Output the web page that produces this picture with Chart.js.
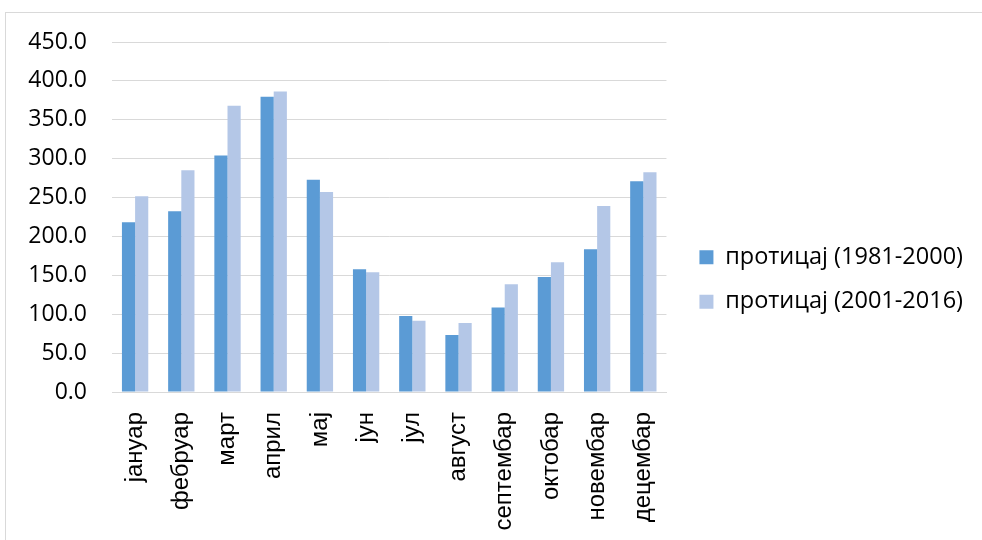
<!DOCTYPE html>
<html>
<head>
<meta charset="utf-8">
<script src="https://cdn.jsdelivr.net/npm/chart.js@4"></script>
<style>
  html, body { margin: 0; padding: 0; background: #fff; overflow: hidden; }
  #frame {
    position: absolute; left: 5px; top: 12px; width: 1000px; height: 560px;
    border-left: 1px solid #d9d9d9; border-top: 1px solid #d9d9d9; box-sizing: border-box;
  }
  #wrap { position: absolute; left: 5px; top: 12px; width: 977px; height: 528px; }
</style>
</head>
<body>
<div id="frame"></div>
<div id="wrap"><canvas id="c"></canvas></div>
<script>
// Monthly discharge, two reference periods
const months = ['јануар', 'фебруар', 'март', 'април', 'мај', 'јун', 'јул', 'август', 'септембар', 'октобар', 'новембар', 'децембар'];
const period1Label = 'протицај (1981-2000)';
const period2Label = 'протицај (2001-2016)';
const period1 = [218.2, 232.3, 304.2, 379.5, 272.9, 157.9, 97.6, 73.2, 108.6, 148.0, 183.6, 270.9];
const period2 = [251.6, 285.0, 367.9, 386.4, 257.1, 154.0, 91.5, 88.6, 138.6, 166.9, 239.2, 282.4];
const yMax = 450;
const yStep = 50;

const gridColor = '#d9d9d9';

new Chart(document.getElementById('c'), {
  type: 'bar',
  data: {
    labels: months,
    datasets: [
      { label: period1Label, data: period1, backgroundColor: '#5b9bd5', yAxisID: 'y' },
      { label: period2Label, data: period2, backgroundColor: '#b4c7e7', yAxisID: 'y' }
    ]
  },
  options: {
    responsive: true,
    maintainAspectRatio: false,
    animation: false,
    layout: { padding: { top: 7, bottom: 0, left: 0, right: 9 } },
    datasets: { bar: { categoryPercentage: 0.57, barPercentage: 1.0 } },
    plugins: {
      tooltip: { enabled: false },
      legend: {
        position: 'right',
        align: 'center',
        maxWidth: 400,
        labels: {
          boxWidth: 14,
          boxHeight: 14,
          padding: 21,
          color: '#000',
          font: { family: 'Open Sans', size: 23.5 }
        }
      }
    },
    scales: {
      x: {
        grid: { display: false },
        border: { color: gridColor, width: 1 },
        ticks: {
          color: '#000',
          font: { family: 'Liberation Sans', size: 24 },
          minRotation: 90,
          maxRotation: 90,
          padding: 12,
          autoSkip: false
        },
        afterFit: s => { s.height = 148; }
      },
      y: {
        min: 0,
        max: yMax,
        grid: { color: gridColor, lineWidth: 1, drawTicks: false },
        border: { display: false },
        ticks: {
          stepSize: yStep,
          color: '#000',
          padding: 25,
          font: { family: 'Open Sans', size: 23 },
          callback: v => Number(v).toFixed(1)
        },
        afterFit: s => { s.width = 107; s.paddingTop = 30; s.paddingBottom = 0; }
      },
      spacer: {
        position: 'right',
        display: true,
        grid: { display: false, drawOnChartArea: false },
        border: { display: false },
        ticks: { display: false },
        afterFit: s => { s.width = 12; s.paddingTop = 0; s.paddingBottom = 0; }
      }
    }
  }
});
</script>
</body>
</html>
